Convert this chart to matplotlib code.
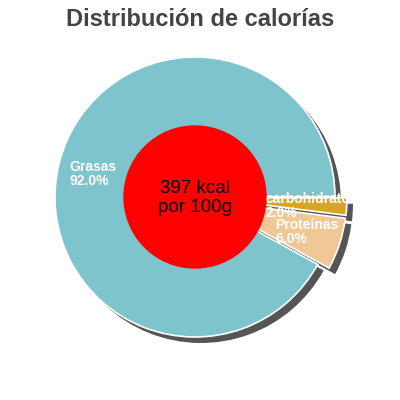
import numpy as np
import matplotlib
matplotlib.use("Agg")
import matplotlib.pyplot as plt
from matplotlib.patches import Circle, Rectangle

plt.rcParams["font.family"] = ["Liberation Sans", "DejaVu Sans"]

labels = ["carbohidratos", "Proteínas", "Grasas"]
values = [2.0, 6.0, 92.0]
colors = ["#DAA520", "#F0C896", "#7DC4CC"]
explode = [12, 12, 0]  # data units (pixels)
title = "Distribución de calorías"
center_text = "397 kcal\npor 100g"

CX, CY, R = 195, 203, 140
SHADOW = (6, -6)

fig = plt.figure(figsize=(4, 4), dpi=100)
ax = fig.add_axes([0, 0, 1, 1])

# shadow first, then the real wedges on top
ax.pie(values, colors=["#555555"] * 3, startangle=0, counterclock=False,
       explode=explode, radius=R, center=(CX + SHADOW[0], CY + SHADOW[1]),
       frame=True, wedgeprops=dict(linewidth=0))
wedges, _ = ax.pie(values, colors=colors, startangle=0, counterclock=False,
                   explode=explode, radius=R, center=(CX, CY), frame=True,
                   wedgeprops=dict(linewidth=1.2, edgecolor="white"))
ax.set_xlim(0, 400)
ax.set_ylim(0, 400)
ax.set_aspect("equal")
ax.axis("off")

ax.add_patch(Circle((CX, CY), 71, color="#FF0000", zorder=5))
ax.text(CX, CY - 1, center_text, ha="center", va="center", fontsize=13.5,
        color="black", zorder=6, linespacing=1.2)

clip = Rectangle((0, 0), 349, 400, transform=ax.transData, visible=False)
ax.add_patch(clip)

# (distance as fraction of radius, angle nudge in degrees)
label_pos = [(0.42, -4.5), (0.54, -6.5), (0.91, 4.0)]
for w, lab, v, (d, nudge) in zip(wedges, labels, values, label_pos):
    mid = np.deg2rad((w.theta1 + w.theta2) / 2 + nudge)
    cx, cy = w.center
    x = cx + d * R * np.cos(mid)
    y = cy + d * R * np.sin(mid)
    t = ax.text(x, y, f"{lab}\n{v:.1f}%", ha="left", va="center",
                fontsize=10, color="white", fontweight="bold", zorder=7,
                linespacing=0.95)
    t.set_clip_path(clip)

fig.text(0.5, 0.952, title, ha="center", va="center", fontsize=17,
         fontweight="bold", color="#444444")

fig.savefig("out.png", dpi=100)
